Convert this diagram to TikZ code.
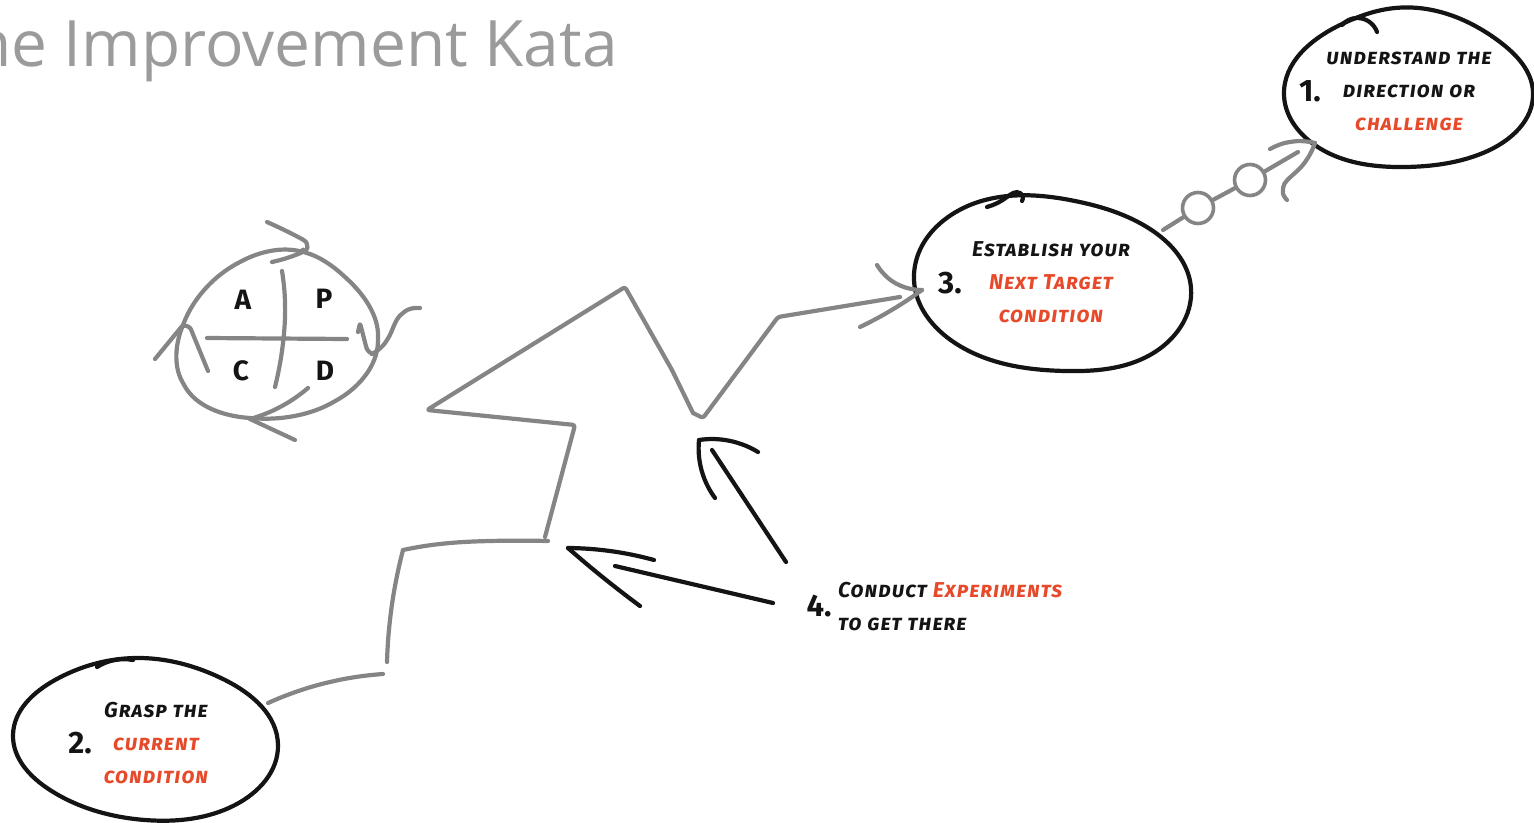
\documentclass[tikz,border=0pt]{standalone}
\usepackage{fontspec}
\setmainfont{Fira Sans}
\newfontfamily\titlefont{Open Sans}
\usepackage{xcolor}
\usetikzlibrary{calc,positioning,hobby}
\definecolor{kataGray}{HTML}{858585}
\definecolor{kataTitle}{HTML}{9B9B9B}
\definecolor{kataRed}{HTML}{E64A2A}
\definecolor{kataInk}{HTML}{141414}
\newcommand{\hl}[1]{\textcolor{kataRed}{#1}}
\begin{document}
\begin{tikzpicture}[
  x=1pt, y=-1pt,
  use Hobby shortcut,
  ink/.style={draw=kataInk, line width=4.2pt, line cap=round, line join=round},
  pen/.style={draw=kataGray, line width=4.2pt, line cap=round, line join=round, rounded corners=2.5pt},
  stone/.style={circle, draw=kataGray, line width=3.6pt, minimum size=31pt, inner sep=0pt},
  note/.style={font=\fontsize{21.5}{33}\selectfont\addfontfeatures{LetterSpace=4.5}\bfseries\itshape\scshape, text=kataInk, align=center, inner sep=0pt},
  num/.style={font=\fontsize{31}{33}\selectfont\bfseries, text=kataInk, inner sep=0pt},
  pdca/.style={font=\fontsize{28}{30}\selectfont\bfseries, text=kataInk, inner sep=0pt}
]
\clip (0,0) rectangle (1534,822);
\useasboundingbox (0,0) rectangle (1534,822);
\node[font=\titlefont\fontsize{64}{70}\selectfont, text=kataTitle, anchor=base east, inner sep=0pt] (title) at (618,66) {The Improvement Kata};
% ---- blobs
\draw[ink, closed=true] (1284,95) .. (1342,24) .. (1395,8) .. (1500,42) .. (1533,92) .. (1483,153) .. (1405,167) .. (1312,143);
\draw[ink] (1342,25) .. (1357,18) .. (1377,32);
\draw[ink, closed=true] (914,280) .. (985,200) .. (1075,201) .. (1150,229) .. (1191,288) .. (1150,355) .. (1065,371) .. (955,343);
\draw[ink] (987,207) .. (1007,197) .. (1020,193) .. (1022,201);
\draw[ink, closed=true] (13,735) .. (55,680) .. (135,658) .. (225,680) .. (278,745) .. (235,805) .. (145,820) .. (50,790);
\draw[ink] (97,667) .. (115,660) .. (133,660);
% ---- labels
\node[note] (challenge) at (1409,91) {understand the\\direction or\\\hl{challenge}};
\node[num] (n1) at (1310,91) {1.};
\node[note] (target) at (1051,282.5) {Establish your\\\hl{Next Target}\\\hl{condition}};
\node[num] (n3) at (950,283) {3.};
\node[note] (current) at (156,743) {Grasp the\\\hl{current}\\\hl{condition}};
\node[num] (n2) at (80,743) {2.};
\node[note, align=left, anchor=west] (experiments) at (838,607) {Conduct \hl{Experiments}\\to get there};
\node[num] (n4) at (819,606) {4.};
% ---- staircase
\draw[pen] (268,703) .. (330,682) .. (383,674);
\draw[pen] (387,662) .. (390,620) .. (403,550);
\draw[pen] (403,550) .. (440,544) .. (490,541) .. (548,541);
\draw[pen] (545,537) -- (575,425) -- (427,410) -- (625,287) -- (672,370) -- (693,413);
\draw[pen] (693,413) -- (703,418) -- (778,317) -- (900,297);
\draw[pen] (877,265) .. (883,273) .. (922,290);
\draw[pen] (922,290) .. (890,311) .. (860,327);
% ---- stones to the challenge
\node[stone] (s1) at (1198,208) {};
\node[stone] (s2) at (1250,180) {};
\coordinate (sStart) at (1163,230);
\coordinate (sEnd) at (1298,152);
\draw[pen] (sStart) -- (s1);
\draw[pen] (s1) -- (s2);
\draw[pen] (s2) -- (sEnd);
\draw[pen] (1270,149) .. (1290,142) .. (1315,143);
\draw[pen] (1315,143) .. (1296,172) .. (1283,190) .. (1287,200);
% ---- experiment arrows
\draw[ink] (786,562) -- (712,450);
\draw[ink] (758,452) .. (725,440) .. (699,440);
\draw[ink] (699,440) .. (703,475) .. (715,498);
\draw[ink] (773,603) -- (615,566);
\draw[ink] (654,560) .. (610,551) .. (568,548);
\draw[ink] (568,548) .. (600,575) .. (640,606);
% ---- pdca wheel
\draw[pen, closed=true] (303,252) .. (240,262) .. (183,325) .. (183,383) .. (250,418) .. (337,400) .. (378,340) .. (345,277);
\draw[pen] (267,222) .. (300,238) .. (307,245) .. (303,252);
\draw[pen] (303,252) .. (290,257) .. (272,262);
\draw[pen] (358,332) -- (360,323) -- (367,350) -- (372,354);
\draw[pen] (372,354) .. (387,340) .. (403,313) .. (420,308);
\draw[pen] (308,388) .. (280,407) .. (250,419);
\draw[pen] (250,419) -- (295,440);
\draw[pen] (208,371) -- (190,327) -- (183,325) -- (155,359);
\draw[pen] (207,338) -- (347,339);
\draw[pen] (282,271) .. (285,303) .. (283,343) .. (275,387);
\foreach \l/\x/\y in {A/243/300, P/324/299, C/241/371, D/325/371} { \node[pdca] (pdca\l) at (\x,\y) {\l}; }
\end{tikzpicture}
\end{document}
